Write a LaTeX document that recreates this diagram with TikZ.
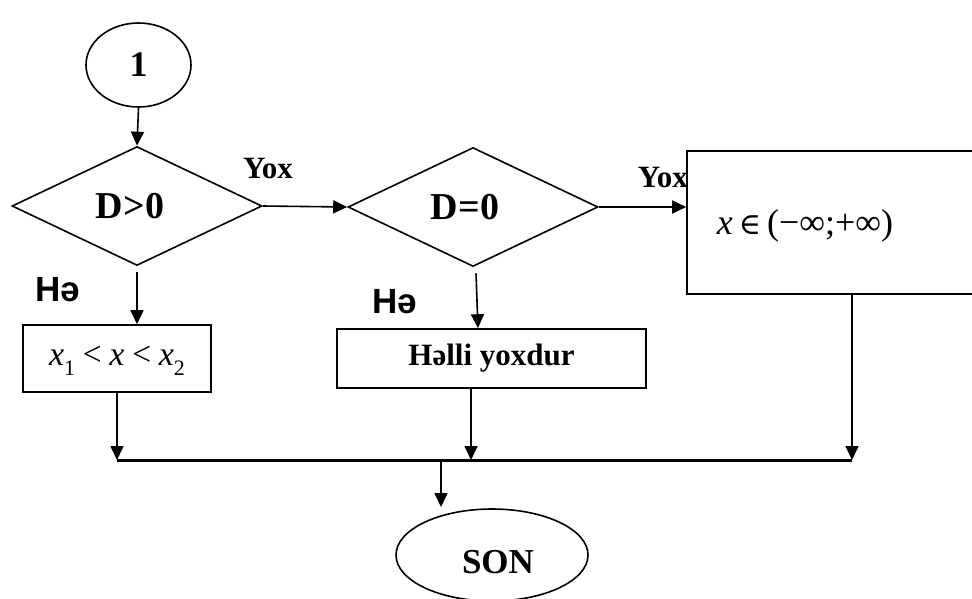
\documentclass[tikz,border=0pt]{standalone}
\usepackage{fontspec}
\setmainfont{Liberation Serif}
\newfontfamily\arialf{Liberation Sans}
\newfontfamily\djs{DejaVu Serif}
\usetikzlibrary{shapes.geometric,arrows.meta,calc}
\begin{document}
\begin{tikzpicture}[x=1pt,y=-1pt,
  line width=1.6pt,
  arr/.style={-{Triangle[length=14pt,width=13pt]}},
  dec/.style={diamond,draw,inner sep=0pt,minimum width=250pt,minimum height=119pt,aspect=2.1,fill=white},
  box/.style={rectangle,draw,inner sep=0pt,fill=white},
  bigtxt/.style={font=\fontsize{38}{40}\selectfont\bfseries},
  yoxlbl/.style={font=\fontsize{31}{33}\selectfont\bfseries,inner sep=0pt},
  helbl/.style={font=\fontsize{35}{37}\selectfont\arialf\bfseries,inner sep=0pt},
  mathtxt/.style={font=\fontsize{34}{36}\selectfont,inner sep=0pt},
]
\path[use as bounding box] (0,0) rectangle (972,598);
\clip (0,0) rectangle (972,598);

% start connector
\node[ellipse,draw,minimum width=105pt,minimum height=84pt,inner sep=0pt,
      font=\fontsize{36}{38}\selectfont\bfseries] (c1) at (138.5,65) {1};

% decisions
\node[dec,bigtxt] (d1) at (137,206) {\hspace*{-14pt}D>0};
\node[dec,bigtxt] (d2) at (473,207) {\hspace*{-16pt}D=0};

% labels
\node[yoxlbl] (y1) at (268,168) {Yox};
\node[yoxlbl,anchor=west] (y2) at (637,177) {Yox};
\node[helbl] (h1) at (58,290) {Hə};
\node[helbl] (h2) at (395,302) {Hə};

% process boxes
\node[box,minimum width=188pt,minimum height=67pt] (b1) at (117,358.5) {};
\node[mathtxt] (b1t) at (117,361) {\itshape x\raisebox{-0.3em}{\upshape\fontsize{22}{24}\selectfont 1}\:\upshape{<}\:\itshape x\:\upshape{<}\:\itshape x\raisebox{-0.3em}{\upshape\fontsize{22}{24}\selectfont 2}};
\node[box,minimum width=309pt,minimum height=59pt,font=\fontsize{31}{33}\selectfont\bfseries] (b2) at (491.5,358.5) {Həlli yoxdur};
\node[box,minimum width=303pt,minimum height=143pt] (b3) at (838.5,222.5) {};
\node[font=\fontsize{36}{38}\selectfont,inner sep=0pt] (b3t) at (805,226) {\itshape x\,\upshape{\djs\fontsize{30}{32}\selectfont ∈}\,(−∞;+∞)};

% end
\node[ellipse,draw,minimum width=192pt,minimum height=92pt,inner sep=0pt] (son) at (492,555) {};
\node[font=\fontsize{35}{36}\selectfont\bfseries,inner sep=0pt] (sont) at (498,562) {SON};

% junction coordinates
\coordinate (j1) at (117,460);
\coordinate (j2) at (471,460);
\coordinate (j3) at (852,460);
\coordinate (jm) at (441,460);
\coordinate (sonin) at (441,507);

% connectors
\draw[arr] (c1.south) -- (d1.north);
\draw[arr] (d1.east) -- (d2.west);
\draw[arr] (d2.east) -- (d2.east -| b3.west);
\draw[arr] ($(d1.south)+(0,6)$) -- (d1.south |- b1.north);
\draw[arr] ($(d2.south)+(3,6)$) -- ($(b2.north)+(-13.5,0)$);
\draw[arr] (b1.south) -- (j1);
\draw[arr] ($(b2.south)+(-20.5,0)$) -- (j2);
\draw[arr] ($(b3.south)+(13.5,0)$) -- (j3);
\draw[line width=3pt] (j1) -- (j3);
\draw[arr] (jm) -- (sonin);
\end{tikzpicture}
\end{document}
